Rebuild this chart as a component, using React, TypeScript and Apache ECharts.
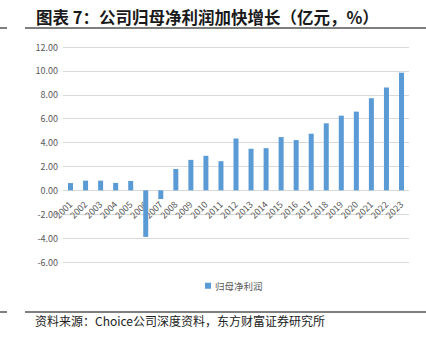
import React, { useEffect, useRef } from "react";
import * as echarts from "echarts";

const years = ["2001","2002","2003","2004","2005","2006","2007","2008","2009","2010","2011","2012","2013","2014","2015","2016","2017","2018","2019","2020","2021","2022","2023"];
const netProfit = [0.61,0.81,0.81,0.62,0.78,-3.9,-0.73,1.79,2.55,2.89,2.44,4.34,3.48,3.53,4.46,4.21,4.74,5.61,6.25,6.59,7.71,8.61,9.85];
const seriesName = "归母净利润";
const titleText = "图表 7：公司归母净利润加快增长（亿元，%）";
const sourceText = "资料来源：Choice公司深度资料，东方财富证券研究所";

export default function App() {
  const ref = useRef<HTMLDivElement>(null);
  useEffect(() => {
    if (!ref.current) return;
    const chart = echarts.init(ref.current, null, { renderer: "svg" });
    const font = "'Noto Sans CJK SC', 'Noto Sans', sans-serif";
    chart.setOption({
      animation: false,
      textStyle: { fontFamily: font },
      grid: { left: 63, right: 17, top: 47, bottom: 75, containLabel: false },
      legend: {
        left: 200,
        top: 276,
        itemWidth: 6,
        itemHeight: 6,
        itemGap: 10,
        icon: "rect",
        textStyle: { fontSize: 9.5, color: "#595959", fontFamily: font, padding: [0, 0, 0, -1] },
        data: [seriesName],
      },
      xAxis: {
        type: "category",
        data: years,
        offset: -71.3,
        axisLine: { show: false, onZero: false },
        axisTick: { show: false },
        axisLabel: { rotate: 45, fontSize: 9, color: "#595959", margin: 12, interval: 0 },
      },
      yAxis: {
        type: "value",
        min: -6,
        max: 12,
        interval: 2,
        axisLine: { show: false },
        axisTick: { show: false },
        splitLine: { lineStyle: { color: "#d9d9d9", width: 1 } },
        axisLabel: {
          fontSize: 9,
          color: "#595959",
          margin: 5,
          formatter: (v: number) => v.toFixed(2),
        },
      },
      series: [
        {
          name: seriesName,
          type: "bar",
          data: netProfit,
          barWidth: 5,
          itemStyle: { color: "#5b9bd5" },
        },
      ],
      graphic: [
        {
          type: "text",
          left: 36,
          top: 9,
          style: { text: titleText, font: `bold 16.5px ${font}`, fill: "#1a1a1a" },
        },
        { type: "line", shape: { x1: 0, y1: 28, x2: 7, y2: 28 }, style: { stroke: "#555", lineWidth: 1.5 } },
        { type: "line", shape: { x1: 25, y1: 28, x2: 426, y2: 28 }, style: { stroke: "#555", lineWidth: 1.5 } },
        { type: "line", shape: { x1: 0, y1: 312, x2: 7, y2: 312 }, style: { stroke: "#555", lineWidth: 1.5 } },
        { type: "line", shape: { x1: 25, y1: 312, x2: 426, y2: 312 }, style: { stroke: "#555", lineWidth: 1.5 } },
        {
          type: "text",
          left: 35,
          top: 314,
          style: { text: sourceText, font: `12px ${font}`, fill: "#222" },
        },
      ],
    });
    return () => chart.dispose();
  }, []);
  return <div ref={ref} style={{ width: 426, height: 337, position: "absolute", left: 0, top: 0 }} />;
}
